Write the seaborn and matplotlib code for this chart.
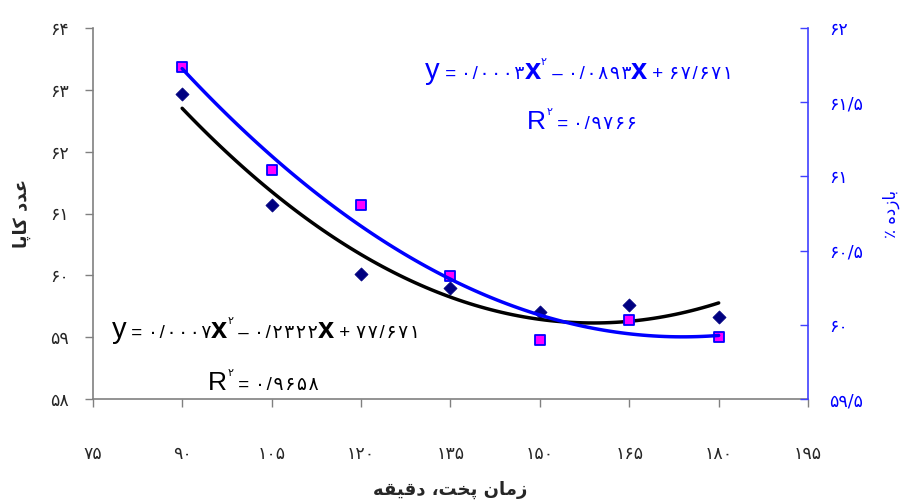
import numpy as np
import pandas as pd
import matplotlib
matplotlib.use("Agg")
import matplotlib.pyplot as plt
import seaborn as sns

# ---- data ----
time_min = [90, 105, 120, 135, 150, 165, 180]
kappa = [62.94, 61.13, 60.02, 59.80, 59.41, 59.52, 59.32]
yield_pct = [61.74, 61.04, 60.81, 60.33, 59.90, 60.03, 59.92]
x_ticks = [75, 90, 105, 120, 135, 150, 165, 180, 195]
kappa_ticks = [58, 59, 60, 61, 62, 63, 64]
yield_ticks = [59.5, 60.0, 60.5, 61.0, 61.5, 62.0]

# labels (Persian, pre-shaped in visual order)
xlabel = "\uFEEA\uFED8\uFBFF\uFED7\uFEA9 \u060C\uFE96\uFEA8\uFB58 \uFEE5\uFE8E\uFEE3\uFEAF"
ylabel_left = "\uFE8E\uFB58\uFE8E\uFB90 \uFEA9\uFEAA\uFECB"
ylabel_right = "\u066A \uFEE9\uFEA9\uFEAF\uFE8E\uFE91"

blue_coefs = ["۰/۰۰۰۳", "۰/۰۸۹۳", "۶۷/۶۷۱"]
blue_r2 = "۰/۹۷۶۶"
black_coefs = ["۰/۰۰۰۷", "۰/۲۳۲۲", "۷۷/۶۷۱"]
black_r2 = "۰/۹۶۵۸"

df = pd.DataFrame({"time": time_min, "kappa": kappa, "yield": yield_pct})

sns.set_style("white")
plt.rcParams["font.family"] = ["DejaVu Sans"]

FA = str.maketrans("0123456789.", "۰۱۲۳۴۵۶۷۸۹/")
def fa_num(v):
    return f"{v:g}".translate(FA)

HS = "\u200A"
def spaced(s):
    return HS.join(s)

D = 13.5   # digit size
OP = 13.5  # operator size
L = 21     # latin letter size

def eq_pieces(c):
    return [("y", L, 0, "normal"), (" = ", OP, 0, "normal"), (spaced(c[0]), D, 0, "normal"),
            ("x", L, 0, "bold"), ("۲", 8, 10, "normal"),
            (" \u2013 ", OP, 0, "normal"), (spaced(c[1]), D, 0, "normal"),
            ("x", L, 0, "bold"), (" + ", OP, 0, "normal"), (spaced(c[2]), D, 0, "normal")]

def r2_pieces(r):
    return [("R", 19, 0, "normal"), ("۲", 8, 10, "normal"), (" = ", OP, 0, "normal"),
            (spaced(r), D, 0, "normal")]

fig = plt.figure(figsize=(9.01, 5.0), dpi=100)
ax = fig.add_axes([0.1029, 0.202, 0.794, 0.742])
ax2 = ax.twinx()

BLUE = "#0000ff"
NAVY = "#000080"
GRAY = "#808080"

# kappa (left)
sns.scatterplot(data=df, x="time", y="kappa", ax=ax, marker="D", s=45, color=NAVY,
                edgecolor=NAVY, linewidth=0.5, zorder=3, legend=False)
sns.regplot(data=df, x="time", y="kappa", ax=ax, order=2, ci=None, scatter=False,
            line_kws=dict(color="black", lw=2.5, zorder=4))

# yield (right)
sns.scatterplot(data=df, x="time", y="yield", ax=ax2, marker="s", s=60, color="#ff00ff",
                edgecolor=BLUE, linewidth=1.3, zorder=3, legend=False)
sns.regplot(data=df, x="time", y="yield", ax=ax2, order=2, ci=None, scatter=False,
            line_kws=dict(color=BLUE, lw=2.5, zorder=4))

ax.set_xlim(75, 195)
ax.set_ylim(58, 64)
ax2.set_ylim(59.5, 62)
ax.set_xticks(x_ticks)
ax.set_xticklabels([fa_num(v) for v in x_ticks], fontsize=12.5)
ax.set_yticks(kappa_ticks)
ax.set_yticklabels([fa_num(v) for v in kappa_ticks], fontsize=12.5)
ax2.set_yticks(yield_ticks)
ax2.set_yticklabels([fa_num(v) for v in yield_ticks], fontsize=12.5, color=BLUE)

ax.set_xlabel(xlabel, fontsize=13, fontweight="bold", labelpad=13)
ax.set_ylabel(ylabel_left, fontsize=13, fontweight="bold", labelpad=14)
ax2.set_ylabel(ylabel_right, fontsize=12, color=BLUE, rotation=90, labelpad=14)

for a in (ax, ax2):
    a.spines["top"].set_visible(False)
ax.spines["right"].set_visible(False)
ax2.spines["left"].set_visible(False)
ax2.spines["bottom"].set_visible(False)
ax.spines["left"].set_color(GRAY)
ax.spines["bottom"].set_color(GRAY)
ax2.spines["right"].set_color("#4040ff")
for s in ("left", "bottom"):
    ax.spines[s].set_linewidth(1.2)
ax2.spines["right"].set_linewidth(1.2)

ax.tick_params(axis="x", direction="out", length=6, width=1, color=GRAY, pad=27, bottom=True)
ax.tick_params(axis="y", direction="out", length=6, width=1, color=GRAY, pad=11, left=True)
ax2.tick_params(axis="y", direction="in", length=6, width=1, color="#4040ff", pad=15, right=True)
ax.grid(False)
ax2.grid(False)


def eq_text(x0, yb, pieces, color):
    s0, size0, _, w0 = pieces[0]
    prev = fig.text(x0, yb, s0, size=size0, color=color, va="baseline", ha="left",
                    fontweight=w0, family=["Liberation Sans", "DejaVu Sans"])
    for s, size, rise, w in pieces[1:]:
        prev = ax.annotate(s, xy=(1, yb), xycoords=(prev, "figure fraction"),
                           xytext=(0, rise), textcoords="offset points",
                           size=size, color=color, va="baseline", ha="left", fontweight=w,
                           family=["Liberation Sans", "DejaVu Sans"], annotation_clip=False)


eq_text(0.4717, 0.842, eq_pieces(blue_coefs), BLUE)
eq_text(0.585, 0.742, r2_pieces(blue_r2), BLUE)
eq_text(0.124, 0.324, eq_pieces(black_coefs), "black")
eq_text(0.231, 0.22, r2_pieces(black_r2), "black")

fig.savefig("out.png", dpi=100)
